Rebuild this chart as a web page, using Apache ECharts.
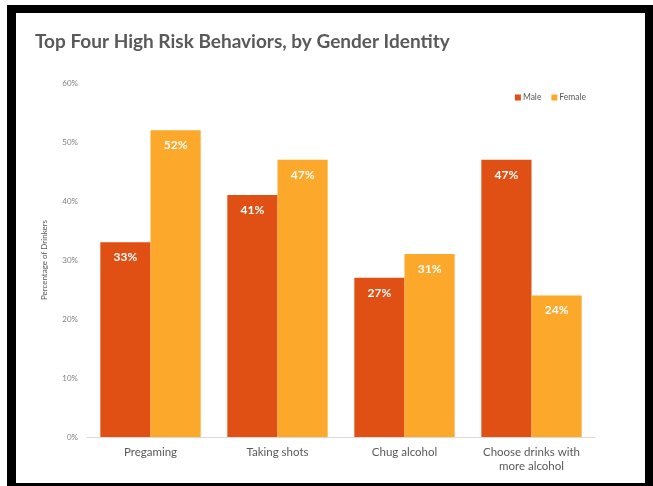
<!DOCTYPE html>
<html><head><meta charset="utf-8">
<script src="https://cdn.jsdelivr.net/npm/echarts@6/dist/echarts.min.js"></script>
<style>html,body{margin:0;padding:0;background:#fff}#c{width:653px;height:486px}</style>
</head><body><div id="c"></div>
<script>
const categories = ['Pregaming', 'Taking shots', 'Chug alcohol', 'Choose drinks with\nmore alcohol'];
const male = [33, 41, 27, 47];
const female = [52, 47, 31, 24];
const yTicks = [0, 10, 20, 30, 40, 50, 60];

const chart = echarts.init(document.getElementById('c'), null, {renderer: 'canvas'});
const labelStyle = {
  show: true, position: 'insideTop', distance: 9,
  color: '#fff', fontFamily: 'Lato', fontWeight: 'bold', fontSize: 12,
  formatter: p => p.value + '%'
};
chart.setOption({
  backgroundColor: '#fff',
  animation: false,
  title: {
    text: 'Top Four High Risk Behaviors, by Gender Identity',
    left: 30, top: 27,
    textStyle: {fontFamily: 'Lato', fontWeight: 'bold', fontSize: 19, color: '#595959'}
  },
  legend: {
    right: 62, top: 88, itemWidth: 6, itemHeight: 6, itemGap: 10,
    icon: 'rect',
    textStyle: {fontFamily: 'Lato', fontSize: 8.5, color: '#595959', padding: [0, 0, 0, -3]},
    data: ['Male', 'Female']
  },
  grid: {left: 87, right: 58, top: 83, bottom: 49},
  xAxis: {
    type: 'category', data: categories,
    axisLine: {lineStyle: {color: '#d9d9d9'}},
    axisTick: {show: false},
    axisLabel: {fontFamily: 'Lato', fontSize: 11.5, color: '#595959', margin: 8, lineHeight: 14}
  },
  yAxis: {
    type: 'value', min: 0, max: 60, interval: 10,
    name: 'Percentage of Drinkers', nameLocation: 'middle', nameGap: 39, nameRotate: 90,
    nameTextStyle: {fontFamily: 'Lato', fontSize: 8, color: '#595959'},
    splitLine: {show: false},
    axisLine: {show: false}, axisTick: {show: false},
    axisLabel: {fontFamily: 'Lato', fontSize: 8, color: '#7f7f7f', margin: 9,
      formatter: v => yTicks.includes(v) ? v + '%' : ''}
  },
  series: [
    {name: 'Male', type: 'bar', data: male, barGap: '0%', barCategoryGap: '21%',
     itemStyle: {color: '#E04F13'}, label: labelStyle},
    {name: 'Female', type: 'bar', data: female,
     itemStyle: {color: '#FBA82B'}, label: labelStyle}
  ],
  graphic: [
    {type: 'rect', shape: {x: 7, y: 5, width: 646, height: 8}, style: {fill: '#000'}, z: 100},
    {type: 'rect', shape: {x: 7, y: 5, width: 9, height: 481}, style: {fill: '#000'}, z: 100},
    {type: 'rect', shape: {x: 645, y: 5, width: 8, height: 481}, style: {fill: '#000'}, z: 100},
    {type: 'rect', shape: {x: 7, y: 483, width: 646, height: 3}, style: {fill: '#000'}, z: 100}
  ]
});
</script></body></html>
